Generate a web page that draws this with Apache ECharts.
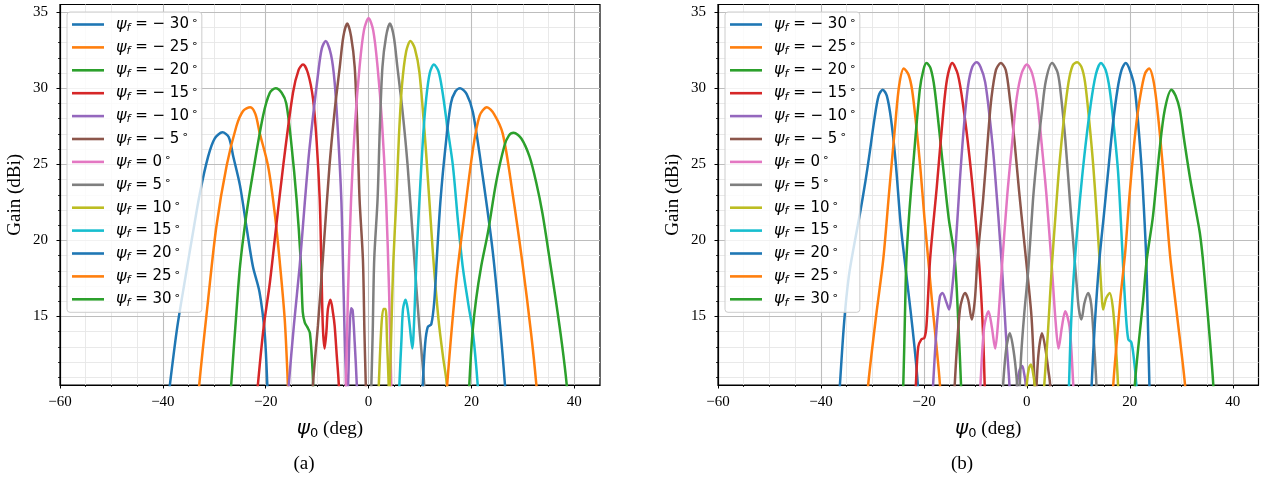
<!DOCTYPE html>
<html>
<head>
<meta charset="utf-8">
<script src="https://cdn.jsdelivr.net/npm/echarts@6/dist/echarts.min.js"></script>
<style>
  html, body { margin: 0; padding: 0; background: #fff; }
  #chart { width: 1279px; height: 480px; }
</style>
</head>
<body>
<div id="chart"></div>
<script>
// legend values (deg)
const psiF = [-30, -25, -20, -15, -10, -5, 0, 5, 10, 15, 20, 25, 30];

const xTicks = [-60, -40, -20, 0, 20, 40];
const xMinorTicks = [-55, -50, -45, -35, -30, -25, -15, -10, -5, 5, 10, 15, 25, 30, 35];
const yTicks = [15, 20, 25, 30, 35];
const yMinorTicks = [11, 12, 13, 14, 16, 17, 18, 19, 21, 22, 23, 24, 26, 27, 28, 29, 31, 32, 33, 34];

// ---- (a) gain curves, [psi0, gain] ----
const a_m30 = [[-39.3,8.5],[-38.6,10.6],[-37.2,14.3],[-35.7,17.4],[-34.2,20.4],[-32.8,23.1],[-31.2,25.5],[-29.9,26.7],[-28.4,27.1],[-27.2,26.8],[-26.3,25.5],[-25.0,23.6],[-23.7,20.8],[-22.5,18.3],[-21.2,16.6],[-20.2,13.9],[-19.7,10.6],[-19.5,8.5]];
const a_m25 = [[-33.3,8.5],[-32.9,10.6],[-31.2,16.1],[-29.6,20.9],[-27.6,24.9],[-25.7,27.5],[-24.4,28.5],[-23.0,28.75],[-22.0,28.3],[-21.2,27.1],[-19.55,24.9],[-18.25,21.8],[-17.3,18.7],[-16.3,14.8],[-15.7,10.6],[-15.5,8.5]];
const a_m20 = [[-27.1,8.5],[-26.7,10.6],[-25.8,14.8],[-25.0,18.3],[-23.8,21.6],[-22.5,24.4],[-20.5,28.2],[-19.2,29.7],[-18.06,30.0],[-16.9,29.7],[-16.0,29.0],[-15.0,26.3],[-14.0,22.7],[-13.2,18.7],[-12.8,15.3],[-12.4,14.6],[-11.9,14.3],[-11.4,13.9],[-10.9,11.5],[-10.6,8.5]];
const a_m15 = [[-22.0,8.5],[-21.5,10.6],[-20.4,14.3],[-19.2,17.2],[-18.0,20.8],[-16.6,24.9],[-14.7,29.7],[-13.6,31.2],[-12.75,31.55],[-11.8,31.0],[-10.8,29.3],[-10.1,26.5],[-9.5,22.7],[-9.2,18.75],[-8.9,14.4],[-8.55,12.9],[-8.2,14.0],[-7.9,15.5],[-7.4,16.1],[-6.9,15.2],[-6.6,14.4],[-6.2,12.5],[-5.8,10.6],[-5.6,8.5]];
const a_m10 = [[-15.9,8.5],[-15.5,10.6],[-14.5,14.5],[-13.4,18.3],[-12.4,22.5],[-11.5,26.0],[-9.8,31.0],[-9.1,32.6],[-8.35,33.1],[-7.3,32.2],[-6.6,30.4],[-5.9,26.8],[-5.3,22.7],[-5.0,18.75],[-4.7,14.4],[-4.4,11.0],[-4.15,8.8],[-3.95,10.8],[-3.7,14.0],[-3.4,15.55],[-3.1,15.4],[-2.7,13.3],[-2.3,10.6],[-2.1,8.5]];
const a_m5 = [[-11.0,8.5],[-10.8,10.6],[-9.85,14.4],[-8.9,18.75],[-7.6,24.9],[-6.6,28.5],[-5.6,31.4],[-4.9,33.4],[-4.15,34.25],[-3.4,33.4],[-2.7,31.4],[-2.2,27.5],[-1.75,22.7],[-1.1,18.75],[-0.8,13.9],[-0.55,10.6],[-0.4,8.5]];
const a_0 = [[-4.6,8.5],[-4.4,10.6],[-4.0,16.5],[-3.4,22.7],[-2.6,27.8],[-1.75,31.4],[-0.9,33.8],[0,34.6],[0.9,33.8],[1.75,31.4],[2.6,27.8],[3.4,22.7],[4.0,16.5],[4.4,10.6],[4.6,8.5]];
const a_5 = [[0.4,8.5],[0.55,10.6],[0.8,13.9],[1.1,18.75],[1.75,22.7],[2.2,27.5],[2.7,31.4],[3.4,33.4],[4.15,34.25],[4.9,33.4],[5.6,31.4],[6.6,28.5],[7.6,24.9],[8.9,18.75],[9.85,14.4],[10.8,10.6],[11.0,8.5]];
const a_10 = [[1.8,8.5],[2.0,10.6],[2.5,14.4],[2.9,15.5],[3.3,15.5],[3.6,13.3],[3.9,10.6],[4.0,8.8],[4.15,10.8],[4.45,14.4],[4.8,18.5],[5.4,22.7],[5.9,26.8],[6.5,30.2],[7.3,32.4],[8.15,33.1],[9.0,32.6],[9.9,31.0],[11.2,25.7],[12.5,19.2],[13.6,14.8],[14.5,12.3],[15.2,10.6],[15.5,8.5]];
const a_15 = [[5.8,8.5],[6.0,10.6],[6.4,13.5],[6.7,15.5],[7.2,16.1],[7.6,15.5],[8.0,14.4],[8.5,12.9],[8.9,15.0],[9.3,18.75],[9.9,22.7],[10.6,26.8],[11.2,29.3],[11.9,31.0],[12.7,31.55],[13.6,31.1],[14.4,29.7],[15.3,27.5],[16.4,24.9],[17.4,21.2],[18.3,18.3],[19.4,15.8],[20.3,13.9],[21.2,10.6],[21.5,8.5]];
const a_20 = [[10.4,8.5],[10.55,10.6],[11.0,13.2],[11.5,14.3],[12.2,14.5],[12.8,16.1],[13.3,19.0],[14.0,22.7],[15.0,26.3],[16.0,29.0],[16.9,29.8],[17.8,30.0],[19.1,29.6],[20.3,28.4],[22.2,24.2],[24.1,19.4],[25.4,15.0],[26.5,10.6],[26.8,8.5]];
const a_25 = [[15.0,8.5],[15.3,10.6],[17.0,17.2],[18.6,21.6],[20.3,26.0],[21.6,28.2],[23.0,28.75],[24.4,28.3],[26.1,27.0],[28.0,23.1],[30.0,18.3],[31.6,13.9],[32.6,10.6],[33.0,8.5]];
const a_30 = [[19.4,8.5],[19.6,10.6],[20.2,13.9],[20.9,16.1],[21.9,18.3],[23.2,20.5],[24.8,23.8],[26.4,26.2],[27.3,26.9],[28.2,27.07],[29.7,26.7],[31.3,25.5],[32.6,23.8],[33.8,21.8],[35.1,19.0],[36.4,16.1],[37.6,13.2],[38.5,10.6],[38.9,8.5]];

// ---- (b) gain curves ----
const b_m30 = [[-36.7,8.5],[-36.3,10.6],[-35.5,14.6],[-34.6,17.6],[-33.5,19.8],[-32.4,21.8],[-31.4,23.8],[-30.6,25.6],[-29.6,28.0],[-28.8,29.5],[-28.0,29.9],[-27.2,29.5],[-26.4,28.0],[-25.5,25.2],[-24.5,21.0],[-23.5,18.0],[-22.6,15.4],[-21.8,12.9],[-21.2,10.6],[-21.0,8.5]];
const b_m25 = [[-31.2,8.5],[-30.8,10.6],[-29.3,15.0],[-27.9,18.75],[-26.8,23.0],[-25.6,27.5],[-24.8,30.2],[-23.9,31.3],[-23.0,30.9],[-22.3,29.9],[-21.5,27.6],[-20.7,24.8],[-19.9,21.5],[-19.2,18.9],[-18.4,15.9],[-17.6,13.2],[-16.9,10.6],[-16.6,8.5]];
const b_m20 = [[-24.3,8.5],[-24.0,10.6],[-23.7,14.8],[-23.4,18.75],[-22.8,22.0],[-22.1,24.9],[-20.8,29.9],[-20.1,31.2],[-19.5,31.65],[-18.7,31.3],[-17.9,29.9],[-16.3,24.9],[-15.2,21.5],[-14.0,18.75],[-13.3,14.5],[-12.8,10.6],[-12.6,8.5]];
const b_m15 = [[-21.8,8.5],[-21.55,10.6],[-21.1,13.0],[-20.5,13.5],[-19.9,13.6],[-19.5,14.4],[-18.8,18.75],[-17.5,23.5],[-16.3,28.2],[-15.5,30.6],[-14.5,31.65],[-13.4,30.9],[-12.35,28.8],[-11.15,25.5],[-10.0,21.5],[-9.05,17.4],[-8.5,13.8],[-8.2,10.6],[-8.0,8.5]];
const b_m10 = [[-18.5,8.5],[-18.2,10.6],[-17.5,14.4],[-16.9,16.3],[-16.4,16.55],[-15.6,15.9],[-15.1,15.46],[-14.6,16.55],[-14.0,18.75],[-13.0,24.0],[-12.2,27.6],[-11.4,30.2],[-10.6,31.4],[-9.8,31.7],[-9.0,31.4],[-8.1,30.4],[-7.2,28.0],[-6.3,24.9],[-4.85,18.3],[-4.1,14.0],[-3.4,10.6],[-3.2,8.5],[-2.6,7.0],[-2.1,8.5],[-1.9,10.6],[-1.4,11.5],[-0.9,11.75],[-0.5,11.2],[-0.25,10.6],[-0.1,8.5]];
const b_m5 = [[-14.2,8.5],[-14.0,10.6],[-13.0,15.46],[-12.0,16.55],[-11.4,16.1],[-10.7,14.8],[-10.1,16.1],[-9.6,18.75],[-8.5,22.7],[-7.5,27.0],[-6.9,29.3],[-6.0,31.2],[-5.05,31.65],[-4.1,31.2],[-3.3,29.3],[-2.4,26.5],[-1.5,23.2],[-0.6,20.2],[0.3,17.2],[0.9,15.0],[1.3,12.3],[1.5,10.2],[1.6,8.0],[1.75,9.0],[1.9,10.6],[2.3,12.7],[2.95,13.9],[3.6,12.9],[4.2,11.4],[4.5,10.6],[4.7,8.5]];
const b_0 = [[-9.3,8.5],[-9.0,10.6],[-8.3,14.3],[-7.45,15.35],[-6.8,14.3],[-6.15,12.9],[-5.6,14.6],[-4.9,18.0],[-3.8,23.0],[-2.8,26.6],[-2.0,29.3],[-1.0,31.0],[0,31.55],[1.0,31.0],[2.0,29.3],[2.8,26.6],[3.8,23.0],[4.9,18.0],[5.6,14.6],[6.15,12.9],[6.8,14.3],[7.45,15.35],[8.3,14.3],[9.0,10.6],[9.3,8.5]];
const b_5 = [[-4.9,8.5],[-4.6,10.6],[-4.0,12.9],[-3.3,13.9],[-2.6,12.8],[-2.0,11.0],[-1.75,9.5],[-1.55,8.0],[-1.4,10.2],[-1.1,12.5],[-0.5,15.2],[0.3,18.2],[1.2,22.7],[2.1,26.0],[2.9,28.4],[3.7,30.5],[4.9,31.65],[6.0,31.0],[6.7,29.3],[7.5,26.5],[8.35,22.7],[9.1,19.5],[9.65,17.2],[10.1,15.5],[10.6,14.8],[11.2,15.9],[11.9,16.55],[12.5,15.8],[13.0,13.5],[13.5,10.6],[13.7,8.5]];
const b_10 = [[-0.3,8.5],[0.0,10.6],[0.4,11.6],[0.8,11.85],[1.2,11.3],[1.55,10.4],[1.8,8.5],[2.4,7.0],[3.0,8.5],[3.4,10.6],[4.1,14.0],[4.85,18.3],[5.6,21.8],[6.3,24.9],[7.2,28.0],[8.1,30.4],[8.9,31.5],[9.77,31.7],[10.6,31.4],[11.3,30.4],[12.1,27.9],[12.9,24.9],[13.6,21.5],[14.2,18.3],[14.5,16.6],[14.8,15.46],[15.4,16.2],[16.1,16.55],[16.7,15.6],[17.2,13.5],[17.7,10.6],[17.9,8.5]];
const b_15 = [[8.0,8.5],[8.2,10.6],[8.5,13.8],[9.05,17.4],[10.0,21.5],[11.15,25.5],[12.35,28.8],[13.4,30.9],[14.4,31.65],[15.3,31.2],[16.1,29.9],[16.9,27.5],[17.7,24.6],[18.3,21.0],[18.7,18.3],[19.2,15.3],[19.7,13.5],[20.3,13.3],[20.8,12.2],[21.25,10.6],[21.5,8.5]];
const b_20 = [[12.4,8.5],[12.6,10.6],[13.2,14.5],[14.1,18.75],[15.0,21.8],[15.9,24.9],[16.7,27.6],[17.6,29.9],[18.4,31.2],[19.2,31.65],[20.1,31.1],[21.0,29.9],[22.2,25.2],[22.75,22.0],[23.2,18.75],[23.5,14.8],[23.8,10.6],[24.0,8.5]];
const b_25 = [[16.5,8.5],[16.8,10.6],[17.5,13.5],[18.2,16.3],[19.1,19.2],[19.9,22.8],[20.8,26.2],[21.5,28.3],[22.3,30.0],[23.0,31.0],[23.75,31.3],[24.7,30.3],[25.6,27.8],[26.5,24.5],[27.2,21.5],[27.9,18.75],[29.2,15.0],[30.7,10.6],[31.0,8.5]];
const b_30 = [[20.8,8.5],[21.0,10.6],[21.8,13.5],[22.6,16.1],[23.3,18.75],[24.5,21.6],[25.8,26.0],[26.8,28.6],[28.1,29.9],[28.9,29.5],[29.7,28.6],[30.6,26.5],[31.65,24.2],[32.6,22.4],[33.6,20.5],[34.2,18.75],[34.9,16.1],[35.6,13.3],[36.2,10.6],[36.5,8.5]];

const curvesA = [a_m30, a_m25, a_m20, a_m15, a_m10, a_m5, a_0, a_5, a_10, a_15, a_20, a_25, a_30];
const curvesB = [b_m30, b_m25, b_m20, b_m15, b_m10, b_m5, b_0, b_5, b_10, b_15, b_20, b_25, b_30];

const colors = ['#1f77b4', '#ff7f0e', '#2ca02c', '#d62728', '#9467bd', '#8c564b', '#e377c2',
  '#7f7f7f', '#bcbd22', '#17becf', '#1f77b4', '#ff7f0e', '#2ca02c'];

const gridMajor = '#bdbdbd';
const gridMinor = '#e6e6e6';
const serif = '"Liberation Serif", "DejaVu Serif", serif';

function fmt(v) {
  return v < 0 ? '\u2212' + Math.abs(v) : String(v);
}

const names = psiF.map(v => 'psi_f=' + v);

function legendText(name) {
  const v = psiF[names.indexOf(name)];
  const num = v < 0 ? '\u2212 ' + Math.abs(v) : String(v);
  return '{i|ψ}{s|f}{t| = ' + num + '}{d|∘}';
}

const legendRich = {
  i: { fontFamily: 'DejaVu Sans', fontStyle: 'italic', fontSize: 16, lineHeight: 18, padding: [0, 0, 0, 7], color: '#000' },
  s: { fontFamily: 'DejaVu Sans', fontStyle: 'italic', fontSize: 11, lineHeight: 10, verticalAlign: 'bottom', color: '#000' },
  t: { fontFamily: 'DejaVu Sans', fontSize: 15, lineHeight: 18, color: '#000' },
  d: { fontFamily: 'DejaVu Sans', fontSize: 11, lineHeight: 10, verticalAlign: 'top', padding: [0, 0, 0, 2], color: '#000' }
};

function makeLegend(left) {
  return {
    data: names,
    orient: 'vertical',
    left: left,
    top: 12,
    icon: 'rect',
    itemWidth: 32,
    itemHeight: 2.6,
    itemGap: 4.9,
    padding: [3.5, 4, 4, 5],
    backgroundColor: 'rgba(255,255,255,0.8)',
    borderColor: '#cccccc',
    borderWidth: 1,
    borderRadius: 3,
    selectedMode: false,
    formatter: legendText,
    textStyle: { rich: legendRich }
  };
}

function majorX(g) {
  return {
    type: 'value', gridIndex: g, position: 'bottom', min: -60, max: 45, z: 1,
    axisLine: { show: true, onZero: false, lineStyle: { color: '#000', width: 1.2 } },
    axisTick: { show: true, customValues: xTicks, length: 3.5, lineStyle: { color: '#000', width: 1 } },
    axisLabel: { customValues: xTicks, formatter: v => (xTicks.indexOf(v) >= 0 ? fmt(v) : ''), margin: 10,
      fontFamily: serif, fontSize: 15, color: '#000' },
    splitLine: { show: true, lineStyle: { color: ['rgba(0,0,0,0)', gridMajor, gridMajor, gridMajor, gridMajor, gridMajor], width: 1.1 } },
    name: '{p|ψ}{s|0}{t| (deg)}',
    nameLocation: 'middle',
    nameGap: 33,
    nameTextStyle: {
      rich: {
        p: { fontFamily: 'DejaVu Sans', fontStyle: 'italic', fontSize: 20, lineHeight: 22, color: '#000' },
        s: { fontFamily: 'DejaVu Sans', fontSize: 13, lineHeight: 13, verticalAlign: 'bottom', color: '#000' },
        t: { fontFamily: serif, fontSize: 19, lineHeight: 22, color: '#000' }
      }
    }
  };
}

function minorX(g) {
  return {
    type: 'value', gridIndex: g, position: 'bottom', min: -60, max: 45, z: 0,
    axisLine: { show: false, onZero: false },
    axisTick: { show: true, customValues: xMinorTicks, length: 2, lineStyle: { color: '#000', width: 0.8 } },
    axisLabel: { show: false },
    splitLine: { show: true, lineStyle: { color: gridMinor, width: 0.9 } }
  };
}

function majorY(g) {
  return {
    type: 'value', gridIndex: g, position: 'left', min: 10.5, max: 35.5, z: 1,
    axisLine: { show: true, onZero: false, lineStyle: { color: '#000', width: 1.2 } },
    axisTick: { show: true, customValues: yTicks, length: 3.5, lineStyle: { color: '#000', width: 1 } },
    axisLabel: { customValues: yTicks, formatter: v => (yTicks.indexOf(v) >= 0 ? fmt(v) : ''), margin: 12,
      fontFamily: serif, fontSize: 15, color: '#000' },
    splitLine: { show: true, lineStyle: { color: gridMajor, width: 1.1 } },
    name: 'Gain (dBi)',
    nameLocation: 'middle',
    nameGap: 35,
    nameRotate: 90,
    nameTextStyle: { fontFamily: serif, fontSize: 19, color: '#000' }
  };
}

function minorY(g) {
  return {
    type: 'value', gridIndex: g, position: 'left', min: 10.5, max: 35.5, z: 0,
    axisLine: { show: false, onZero: false },
    axisTick: { show: true, customValues: yMinorTicks, length: 2, lineStyle: { color: '#000', width: 0.8 } },
    axisLabel: { show: false },
    splitLine: { show: true, lineStyle: { color: gridMinor, width: 0.9 } }
  };
}

function makeSeries(curves, axisIdx) {
  return curves.map((data, i) => ({
    name: names[i],
    type: 'line',
    xAxisIndex: axisIdx,
    yAxisIndex: axisIdx,
    data: data,
    symbol: 'none',
    smooth: 0.3,
    clip: true,
    z: 2,
    silent: true,
    lineStyle: { width: 2.5, color: colors[i] },
    itemStyle: { color: colors[i] }
  }));
}

const chart = echarts.init(document.getElementById('chart'), null, { renderer: 'canvas' });

const option = {
  animation: false,
  backgroundColor: '#fff',
  grid: [
    { left: 60, top: 4.5, width: 540, height: 380.5, show: true, borderColor: '#000', borderWidth: 1.2,
      backgroundColor: 'transparent', containLabel: false, outerBoundsMode: 'none' },
    { left: 718, top: 4.5, width: 540.5, height: 380.5, show: true, borderColor: '#000', borderWidth: 1.2,
      backgroundColor: 'transparent', containLabel: false, outerBoundsMode: 'none' }
  ],
  xAxis: [majorX(0), minorX(0), majorX(1), minorX(1)],
  yAxis: [majorY(0), minorY(0), majorY(1), minorY(1)],
  legend: [makeLegend(67), makeLegend(725)],
  graphic: [
    { type: 'text', x: 304, y: 464, silent: true,
      style: { text: '(a)', font: '19px ' + serif, fill: '#000', align: 'center', verticalAlign: 'middle',
        textAlign: 'center', textVerticalAlign: 'middle' } },
    { type: 'text', x: 962, y: 464, silent: true,
      style: { text: '(b)', font: '19px ' + serif, fill: '#000', align: 'center', verticalAlign: 'middle',
        textAlign: 'center', textVerticalAlign: 'middle' } }
  ],
  series: makeSeries(curvesA, 0).concat(makeSeries(curvesB, 2))
};

chart.setOption(option);
window.addEventListener('resize', function () {
  chart.resize();
});
</script>
</body>
</html>
